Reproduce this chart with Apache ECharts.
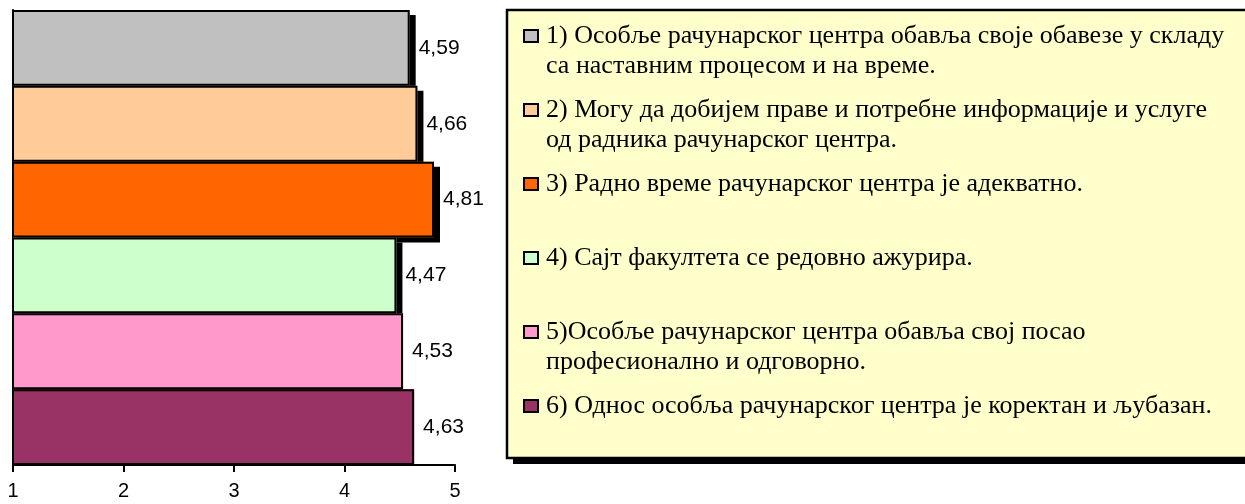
<!DOCTYPE html>
<html>
<head>
<meta charset="utf-8">
<script src="https://cdn.jsdelivr.net/npm/echarts@6/dist/echarts.min.js"></script>
<style>
html,body{margin:0;padding:0;background:#fff;}
#c{width:1245px;height:504px;}
</style>
</head>
<body>
<div id="c"></div>
<script>
// ---- data ----
var categories = [
  "1) Особље рачунарског центра обавља своје обавезе у складу\nса наставним процесом и на време.",
  "2) Могу да добијем праве и потребне информације и услуге\nод радника рачунарског центра.",
  "3) Радно време рачунарског центра је адекватно.",
  "4) Сајт факултета се редовно ажурира.",
  "5)Особље рачунарског центра обавља свој посао\nпрофесионално и одговорно.",
  "6) Однос особља рачунарског центра је коректан и љубазан."
];
var values = [4.59, 4.66, 4.81, 4.47, 4.53, 4.63];
var colors = ["#C0C0C0", "#FFCC99", "#FF6600", "#CCFFCC", "#FF99CC", "#993366"];
var xTicks = [1, 2, 3, 4, 5];

var SERIF = "Liberation Serif";
var SANS = "Liberation Sans";

var chart = echarts.init(document.getElementById('c'), null, {renderer: 'canvas'});

// one filled series per question (with drop shadow), drawn in order top -> bottom
var series = categories.map(function (name, i) {
  var d = values.map(function (v, j) { return j === i ? v : null; });
  return {
    type: 'bar',
    name: name,
    data: d,
    barGap: '-100%',
    barCategoryGap: 0,
    itemStyle: {
      color: colors[i],
      borderWidth: 0,
      shadowColor: i < 4 ? '#000' : 'rgba(0,0,0,0)',
      shadowBlur: 0,
      shadowOffsetX: 6,
      shadowOffsetY: 5
    },
    emphasis: {disabled: true}
  };
});
// outline + value labels on top
series.push({
  type: 'bar',
  name: 'outline',
  data: values,
  barGap: '-100%',
  barCategoryGap: 0,
  itemStyle: {color: 'rgba(0,0,0,0)', borderColor: '#000', borderWidth: 2},
  label: {
    show: true,
    position: 'right',
    distance: 9,
    color: '#000',
    fontFamily: SANS,
    fontSize: 21,
    formatter: function (p) { return String(p.value).replace('.', ','); }
  },
  emphasis: {disabled: true}
});

chart.setOption({
  animation: false,
  backgroundColor: '#fff',
  grid: {left: 13, right: 790, top: 10, bottom: 39, outerBoundsMode: 'none', containLabel: false},
  xAxis: {
    type: 'value',
    min: xTicks[0],
    max: xTicks[xTicks.length - 1],
    interval: 1,
    splitLine: {show: false},
    axisLine: {show: true, lineStyle: {color: '#000', width: 2}},
    axisTick: {show: true, length: 7, lineStyle: {color: '#000', width: 2}},
    axisLabel: {color: '#000', fontFamily: SANS, fontSize: 20, margin: 16,
      formatter: function (v) { return String(v); }}
  },
  yAxis: {
    type: 'category',
    inverse: true,
    data: categories,
    axisLine: {show: true, lineStyle: {color: '#000', width: 2}},
    axisTick: {show: false},
    axisLabel: {show: false}
  },
  graphic: [{
    type: 'rect',
    z: -10,
    shape: {x: 507, y: 10, width: 800, height: 448},
    style: {fill: '#FFFFCC', stroke: null,
      shadowColor: '#000', shadowBlur: 0, shadowOffsetX: 6, shadowOffsetY: 6}
  }, {
    type: 'rect',
    z: -9,
    shape: {x: 507, y: 10, width: 800, height: 448},
    style: {fill: null, stroke: '#000', lineWidth: 2.5}
  }],
  legend: {
    orient: 'vertical',
    left: 523,
    top: -7,
    padding: 0,
    itemGap: -12,
    itemWidth: 14,
    itemHeight: 12,
    icon: 'rect',
    selectedMode: false,
    z: 20,
    itemStyle: {borderColor: '#000', borderWidth: 2, shadowColor: 'rgba(0,0,0,0)', shadowBlur: 0, shadowOffsetX: 0, shadowOffsetY: 0},
    data: categories,
    formatter: function (name) {
      var lines = name.split('\n');
      if (lines.length < 2) lines.push(' ');
      return '{s| }\n{t|' + lines[0] + '}\n{t|' + lines[1] + '}';
    },
    textStyle: {
      color: '#000',
      fontFamily: SERIF,
      fontSize: 26,
      rich: {
        s: {fontSize: 26, lineHeight: 30, fontFamily: SERIF},
        t: {fontSize: 26, lineHeight: 30, fontFamily: SERIF, color: '#000', padding: [0, 0, 0, 3]}
      }
    }
  },
  series: series
});
</script>
</body>
</html>
